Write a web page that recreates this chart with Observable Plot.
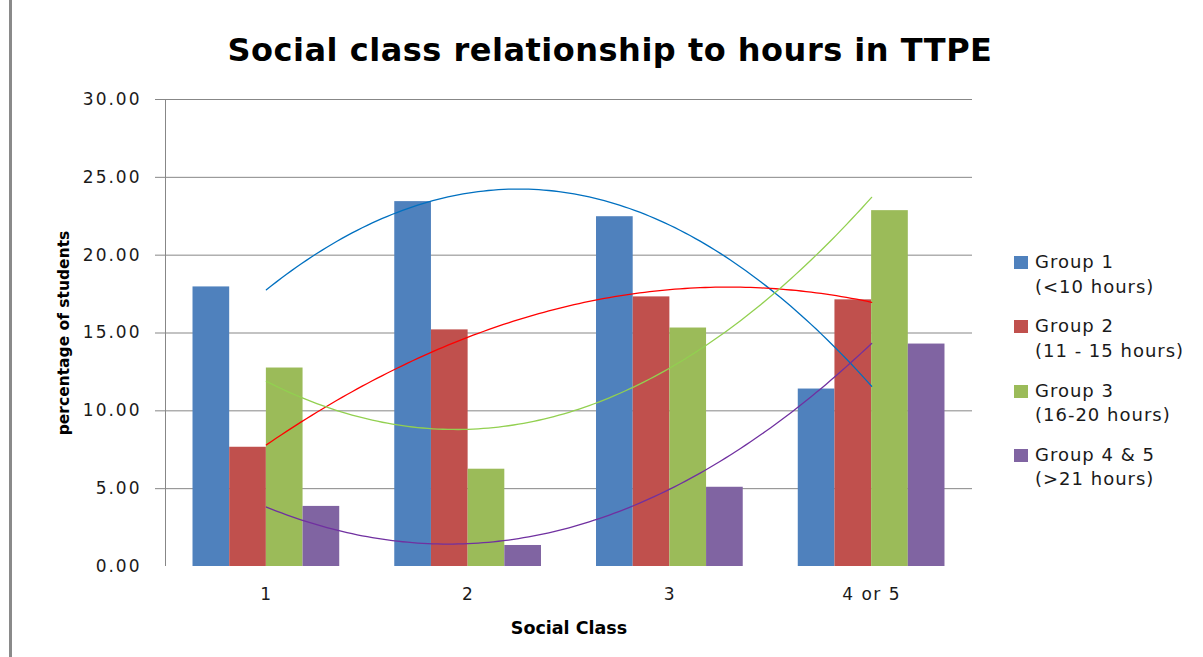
<!DOCTYPE html>
<html>
<head>
<meta charset="utf-8">
<script src="https://cdn.jsdelivr.net/npm/d3@7"></script>
<script src="https://cdn.jsdelivr.net/npm/@observablehq/plot@0.6"></script>
<style>
  html, body { margin: 0; padding: 0; background: #fff; }
  #wrap { position: relative; width: 1203px; height: 657px; overflow: hidden; background: #fff; font-family: "DejaVu Sans", sans-serif; }
  #title { position: absolute; left: 0; top: 34px; width: 1220px; text-align: center; font: bold 32px/32px "DejaVu Sans", sans-serif; letter-spacing: 0.5px; color: #000; white-space: nowrap; }
  #chart { position: absolute; left: 0; top: 90px; }
  #legend { position: absolute; left: 1014px; top: 250px; font: 18px/24.5px "DejaVu Sans", sans-serif; letter-spacing: 1px; color: #1a1a1a; }
  .item { position: relative; height: 64.3px; padding-left: 21px; white-space: nowrap; }
  .sw { position: absolute; left: 0; top: 6px; width: 14px; height: 13px; }
  #edge { position: absolute; left: 9px; top: 0; width: 3px; height: 657px; background: #8a8a8a; }
  svg [aria-label="y-axis tick label"] text { letter-spacing: 2px; }
  svg [aria-label="x-axis tick label"] text { letter-spacing: 1.5px; }
</style>
</head>
<body>
<div id="wrap">
  <div id="title">Social class relationship to hours in TTPE</div>
  <div id="chart"></div>
  <div id="legend"></div>
  <div id="edge"></div>
</div>
<script>
// ---- data ----
const categories = ["1", "2", "3", "4 or 5"];
const groupNames = ["Group 1", "Group 2", "Group 3", "Group 4 & 5"];
const groupHours = ["(<10 hours)", "(11 - 15 hours)", "(16-20 hours)", "(>21 hours)"];
const group1 = [17.96, 23.44, 22.47, 11.40];
const group2 = [7.66, 15.20, 17.32, 17.13];
const group3 = [12.75, 6.25, 15.32, 22.86];
const group4 = [3.86, 1.35, 5.09, 14.29];
const yTicks = [0, 5, 10, 15, 20, 25, 30];
const barColors = ["#4F81BD", "#C0504D", "#9BBB59", "#8064A2"];
const trendColors = ["#0070C0", "#FF0000", "#92D050", "#7030A0"];

// ---- derived tables ----
const series = [group1, group2, group3, group4];
const barW = 1 / 5.5; // Excel default gap width 150%
const bars = series.flatMap((vals, g) => vals.map((v, c) => ({
  group: groupNames[g],
  value: v,
  x1: c + 1 + (g - 2) * barW,
  x2: c + 1 + (g - 1) * barW
})));

// second-order polynomial trendline (least squares), as in the original chart
function fitQuadratic(ys) {
  const xs = ys.map((_, i) => i + 1);
  const S = k => d3.sum(xs, x => x ** k);
  const T = k => d3.sum(xs, (x, i) => x ** k * ys[i]);
  const A = [[S(4), S(3), S(2)], [S(3), S(2), S(1)], [S(2), S(1), xs.length]];
  const B = [T(2), T(1), T(0)];
  for (let i = 0; i < 3; i++) {
    for (let j = i + 1; j < 3; j++) {
      const f = A[j][i] / A[i][i];
      for (let k = i; k < 3; k++) A[j][k] -= f * A[i][k];
      B[j] -= f * B[i];
    }
  }
  const coef = [0, 0, 0];
  for (let i = 2; i >= 0; i--) {
    let s = B[i];
    for (let k = i + 1; k < 3; k++) s -= A[i][k] * coef[k];
    coef[i] = s / A[i][i];
  }
  return x => coef[0] * x * x + coef[1] * x + coef[2];
}
const sampleX = d3.range(0, 121).map(i => 1 + i * 3 / 120);
const trends = series.map(vals => {
  const f = fitQuadratic(vals);
  return sampleX.map(x => ({x, y: f(x)}));
});

const gridColor = "#878787";

const chart = Plot.plot({
  width: 1203,
  height: 567,
  marginLeft: 165,
  marginRight: 231,
  marginTop: 9,
  marginBottom: 91,
  style: {fontFamily: "DejaVu Sans, sans-serif", fontSize: "17px", color: "#1a1a1a", background: "transparent"},
  x: {type: "linear", domain: [0.5, 4.5]},
  y: {domain: [0, 30]},
  color: {domain: groupNames, range: barColors},
  marks: [
    Plot.gridY(yTicks.filter(d => d > 0), {stroke: gridColor, strokeOpacity: 1, strokeWidth: 1}),
    Plot.axisY(yTicks.filter(d => d > 0), {tickSize: 10, tickFormat: () => "", stroke: gridColor, label: null}),
    Plot.axisY(yTicks, {tickSize: 0, tickPadding: 24, tickFormat: d3.format(".2f"), label: null, fill: "#1a1a1a"}),
    Plot.ruleX([0.5], {stroke: gridColor, strokeWidth: 1}),
    Plot.axisX([1, 2, 3, 4], {tickSize: 0, tickPadding: 21, tickFormat: d => categories[d - 1], label: null, fill: "#1a1a1a"}),
    Plot.rectY(bars, {x1: "x1", x2: "x2", y: "value", fill: "group"}),
    ...trends.map((t, i) => Plot.line(t, {x: "x", y: "y", stroke: trendColors[i], strokeWidth: 1.3, curve: "linear"})),
    Plot.text(["percentage of students"], {frameAnchor: "left", textAnchor: "middle", dx: -97, rotate: -90, lineAnchor: "bottom", fontWeight: "bold", fontSize: 15.5, fill: "#000"}),
    Plot.text(["Social Class"], {frameAnchor: "bottom", textAnchor: "middle", dy: 67, lineAnchor: "bottom", fontWeight: "bold", fontSize: 17.5, fill: "#000"})
  ]
});
document.getElementById("chart").appendChild(chart);

// legend
const legend = document.getElementById("legend");
groupNames.forEach((name, i) => {
  const item = document.createElement("div");
  item.className = "item";
  const sw = document.createElement("span");
  sw.className = "sw";
  sw.style.background = barColors[i];
  item.appendChild(sw);
  const l1 = document.createElement("div");
  l1.textContent = name;
  const l2 = document.createElement("div");
  l2.textContent = groupHours[i];
  item.appendChild(l1);
  item.appendChild(l2);
  legend.appendChild(item);
});
</script>
</body>
</html>
